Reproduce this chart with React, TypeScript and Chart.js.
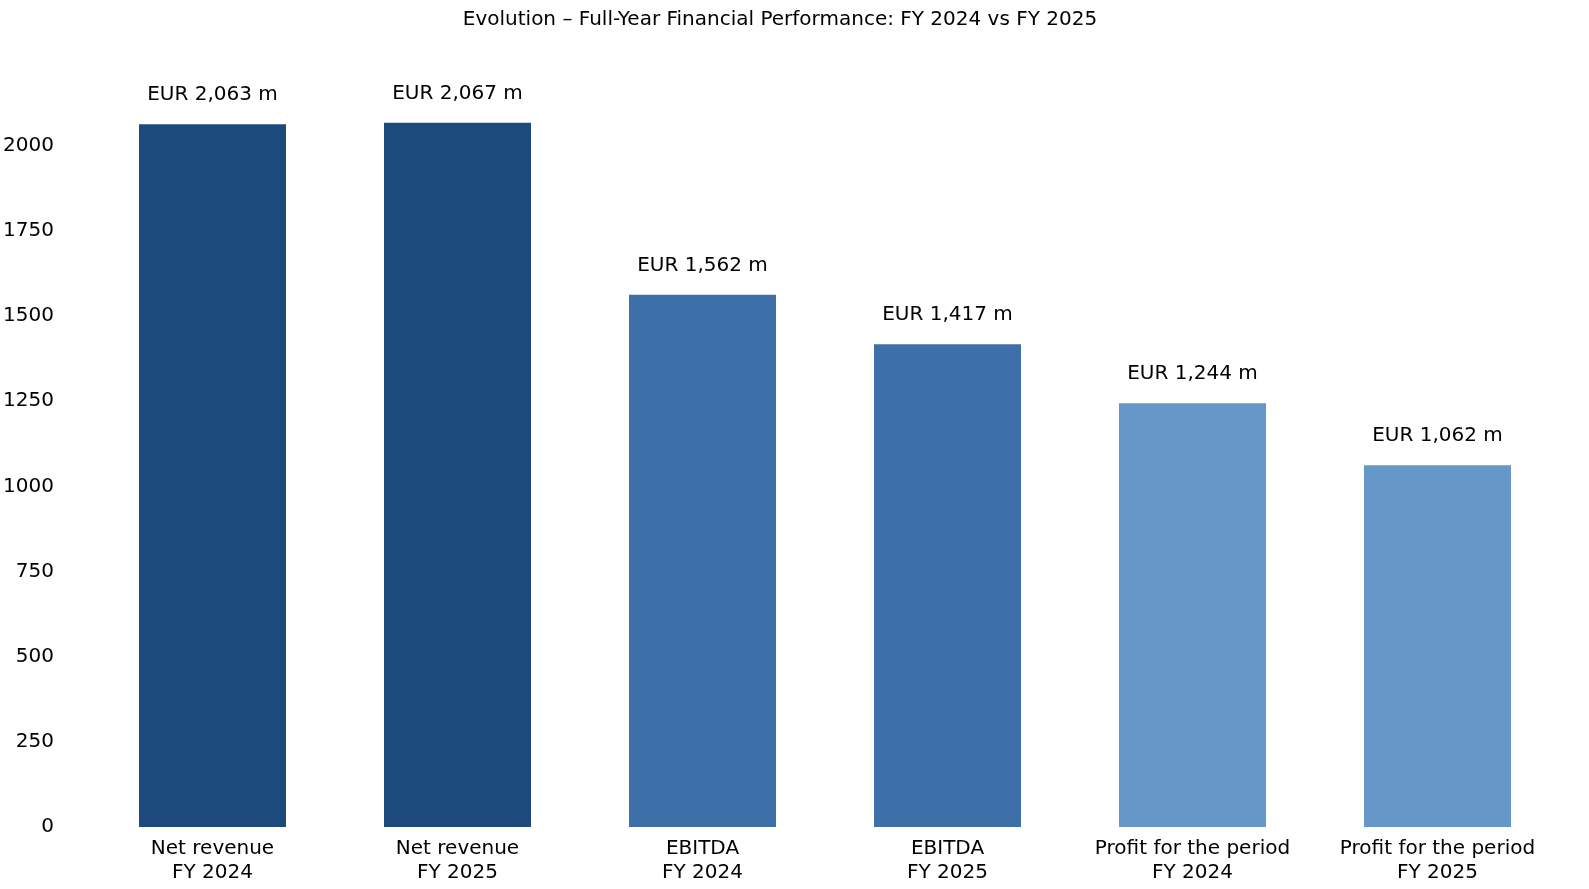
import React, { useEffect, useRef } from "react";
import { Chart, registerables } from "chart.js";
Chart.register(...registerables);

const categories = [
  ["Net revenue", "FY 2024"],
  ["Net revenue", "FY 2025"],
  ["EBITDA", "FY 2024"],
  ["EBITDA", "FY 2025"],
  ["Profit for the period", "FY 2024"],
  ["Profit for the period", "FY 2025"],
];
const values = [2063, 2067, 1562, 1417, 1244, 1062];
const valueLabels = ["EUR 2,063 m", "EUR 2,067 m", "EUR 1,562 m", "EUR 1,417 m", "EUR 1,244 m", "EUR 1,062 m"];
const colors = ["#1c4a7c", "#1c4a7c", "#3d6fa8", "#3d6fa8", "#6597c8", "#6597c8"];
const yTicks = [0, 250, 500, 750, 1000, 1250, 1500, 1750, 2000];
const title = "Evolution – Full-Year Financial Performance: FY 2024 vs FY 2025";

const FONT = "'DejaVu Sans', sans-serif";

export default function App() {
  const ref = useRef<HTMLCanvasElement>(null);
  useEffect(() => {
    const labelPlugin = {
      id: "vlabels",
      afterDatasetsDraw(chart: any) {
        const ctx = chart.ctx;
        const meta = chart.getDatasetMeta(0);
        ctx.save();
        ctx.font = `20px ${FONT}`;
        ctx.fillStyle = "#000";
        ctx.textAlign = "center";
        ctx.textBaseline = "bottom";
        meta.data.forEach((bar: any, i: number) => {
          ctx.fillText(valueLabels[i], bar.x, bar.y - 19);
        });
        ctx.restore();
      },
    };
    const chart = new Chart(ref.current!, {
      type: "bar",
      data: {
        labels: categories,
        datasets: [{ data: values, backgroundColor: colors, categoryPercentage: 1, barPercentage: 0.6 }],
      },
      options: {
        animation: false,
        responsive: false,
        layout: { padding: { left: 0, right: 29, top: 0, bottom: 2 } },
        plugins: {
          legend: { display: false },
          tooltip: { enabled: false },
          title: {
            display: true,
            text: title,
            color: "#000",
            font: { family: FONT, size: 20, weight: "normal" },
            padding: { top: 7, bottom: 8 },
          },
        },
        scales: {
          x: {
            grid: { display: false },
            border: { display: false },
            ticks: { color: "#000", font: { family: FONT, size: 20 }, padding: 2 },
          },
          y: {
            min: 0,
            max: 2310,
            grid: { display: false },
            border: { display: false },
            afterBuildTicks: (ax: any) => {
              ax.ticks = yTicks.map((v) => ({ value: v }));
            },
            afterFit: (ax: any) => {
              ax.width = 90;
            },
            ticks: {
              color: "#000",
              font: { family: FONT, size: 20 },
              padding: 28,
              callback: (v: any) => String(v),
            },
          },
        },
      },
      plugins: [labelPlugin],
    });
    return () => chart.destroy();
  }, []);
  return (
    <div style={{ position: "absolute", left: 0, top: 0, width: 1589, height: 889, background: "#fff" }}>
      <canvas ref={ref} width={1589} height={889} style={{ width: 1589, height: 889 }} />
    </div>
  );
}
